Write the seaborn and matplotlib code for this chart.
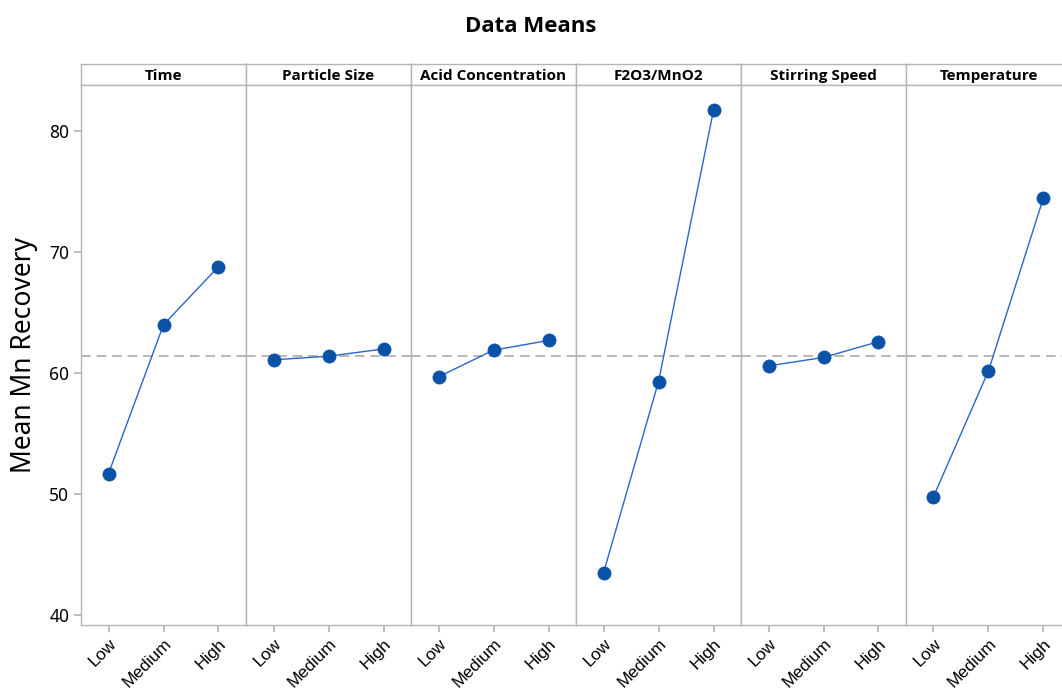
import matplotlib
matplotlib.use("Agg")
import matplotlib.pyplot as plt
import seaborn as sns
import pandas as pd

sns.set_theme(style="white")
plt.rcParams["font.family"] = ["Noto Sans", "DejaVu Sans"]
plt.rcParams["text.color"] = "black"
plt.rcParams["axes.labelcolor"] = "black"
plt.rcParams["xtick.labelcolor"] = "black"
plt.rcParams["ytick.labelcolor"] = "black"

factors = ["Time", "Particle Size", "Acid Concentration", "F2O3/MnO2",
           "Stirring Speed", "Temperature"]
levels = ["Low", "Medium", "High"]
time_means = [51.7, 64.0, 68.8]
particle_means = [61.1, 61.4, 62.0]
acid_means = [59.7, 61.9, 62.7]
ratio_means = [43.5, 59.3, 81.7]
stirring_means = [60.6, 61.3, 62.6]
temperature_means = [49.8, 60.2, 74.5]
grand_mean = 61.4

all_means = [time_means, particle_means, acid_means, ratio_means,
             stirring_means, temperature_means]
rows = []
for f, vals in zip(factors, all_means):
    for lv, v in zip(levels, vals):
        rows.append({"factor": f, "level": lv, "mean": v})
df = pd.DataFrame(rows)

edge = "#b4b4b4"
dot = "#0a52a8"
line = "#2a66c8"
bold_font = ["Open Sans", "Lato", "DejaVu Sans"]

W, H = 1062, 693
fig = plt.figure(figsize=(W / 100, H / 100), dpi=100)
gs = fig.add_gridspec(2, 6, left=81 / W, right=1071 / W, top=1 - 64 / H,
                      bottom=1 - 625 / H, height_ratios=[21, 540],
                      wspace=0, hspace=0)

for i, f in enumerate(factors):
    head = fig.add_subplot(gs[0, i])
    ax = fig.add_subplot(gs[1, i])
    sub = df[df["factor"] == f]
    sns.lineplot(data=sub, x="level", y="mean", ax=ax, color=line,
                 linewidth=1.0, sort=False)
    sns.scatterplot(data=sub, x="level", y="mean", ax=ax, color=dot,
                    s=90, edgecolor=dot, linewidth=0.5, zorder=3)
    ax.axhline(grand_mean, color="#b8b8b8", linestyle=(0, (5, 3)),
               linewidth=1.4, zorder=1)
    ax.set_xlim(-0.5, 2.5)
    ax.set_ylim(39.2, 83.8)
    ax.set_xlabel("")
    ax.set_ylabel("")
    ax.set_xticks(range(3))
    ax.set_xticklabels(levels, rotation=45, ha="right", rotation_mode="anchor",
                       fontsize=12.5, family=["Liberation Sans", "DejaVu Sans"])
    ax.tick_params(axis="x", direction="out", length=5, color=edge, pad=3,
                   bottom=True)
    for sp in ax.spines.values():
        sp.set_color(edge)
        sp.set_linewidth(1.0)
    ax.set_yticks([40, 50, 60, 70, 80])
    if i == 0:
        ax.tick_params(axis="y", direction="out", length=5, color=edge,
                       labelsize=12.5, left=True)
        ax.set_ylabel("Mean Mn Recovery", fontsize=19, labelpad=8)
    else:
        ax.tick_params(axis="y", left=False, labelleft=False)

    head.set_xticks([])
    head.set_yticks([])
    for sp in head.spines.values():
        sp.set_color(edge)
        sp.set_linewidth(1.0)
    head.text(0.5, 0.45, f, transform=head.transAxes, ha="center",
              va="center", fontsize=11, fontweight="bold", family=bold_font)

fig.text(0.5, 1 - 27 / H, "Data Means", ha="center", va="center",
         fontsize=16, fontweight="bold", family=bold_font)

fig.savefig("out.png", dpi=100)
